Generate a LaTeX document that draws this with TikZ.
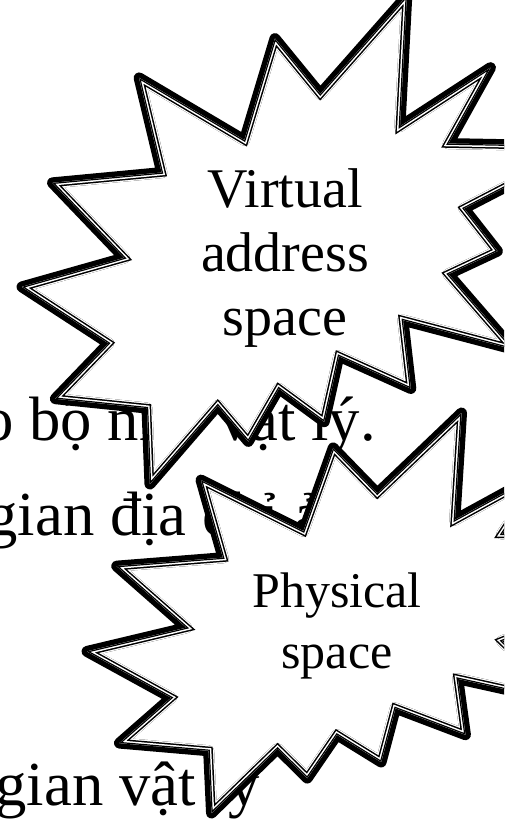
\documentclass[tikz,border=0pt]{standalone}
\usepackage{fontspec}
\setmainfont{Liberation Serif}
\newcommand{\sealpath}{(114.64,43.40) -- (97.22,18.87) -- (85.48,63.83) -- (45.03,36.26) -- (53.73,78.16) -- (11.74,82.70) -- (39.34,115.92) -- (0,128.75) -- (33.29,153.72) -- (12.83,178.24) -- (48.04,182.39) -- (49.18,216) -- (75.25,181.25) -- (86.98,197.12) -- (98.71,173.71) -- (116.14,188.44) -- (121.78,159.37) -- (149.43,173.71) -- (146.40,143.48) -- (188.78,156.32) -- (163.82,123.11) -- (182.70,112.92) -- (169.86,94.04) -- (216,66.46) -- (163.82,65.33) -- (180.05,31.72) -- (145.24,57.78) -- (147.89,0) -- cycle}
\tikzset{
sealthick/.style={draw=black, line width=8.25pt, line join=round},
sealwipe/.style={draw=white, line width=8.25pt, line join=round},
sealinner/.style={draw=black, line width=6.3pt, line join=miter},
sealgap/.style={draw=white, line width=4.05pt, line join=miter},
sealthin/.style={draw=black, line width=1.8pt, line join=miter}}
\newcommand{\bgfont}{\fontsize{47pt}{56pt}\selectfont}
\tikzset{every picture/.style={line width=0.75pt}}

\begin{document}
\begin{tikzpicture}[x=0.75pt,y=0.75pt,yscale=-1,xscale=1]
\useasboundingbox (0,0) rectangle (504,825);
\clip (0,0) rectangle (504,825);

% Text Node
\node [anchor=base west][inner sep=0pt][font=\bgfont] (ln1) at (-18,440) {o bộ nhớ vật lý.};
% Text Node
\node [anchor=base west][inner sep=0pt][font=\bgfont] (ln2) at (-14,535) {gian địa chỉ ảo};
% Text Node
\node [anchor=base west][inner sep=0pt][font=\bgfont] (ln3) at (-5,805) {gian vật lý};

%Shape: Explosion 2 [id:virtual]
\begin{scope}[shift={(22,-4)}, xscale=562/216, yscale=488/216]
\fill [white] \sealpath;
\path [sealthick] \sealpath;
\begin{scope}
\clip \sealpath;
\path [sealwipe] \sealpath;
\path [sealinner] \sealpath;
\path [sealgap] \sealpath;
\path [sealthin] \sealpath;
\end{scope}
\end{scope}
% Text Node
\node [align=center][inner sep=0pt][font=\fontsize{42pt}{48pt}\selectfont] (virt) at (285,258) {Virtual\\address\\space};

%Shape: Explosion 2 [id:physical]
\begin{scope}[shift={(87,413)}, xscale=547/216, yscale=400/216]
\fill [white] \sealpath;
\path [sealthick] \sealpath;
\begin{scope}
\clip \sealpath;
\path [sealwipe] \sealpath;
\path [sealinner] \sealpath;
\path [sealgap] \sealpath;
\path [sealthin] \sealpath;
\end{scope}
\end{scope}
% Text Node
\node [align=center][inner sep=0pt][font=\fontsize{37.5pt}{45.75pt}\selectfont] (phys) at (337,626) {Physical\\space};
\end{tikzpicture}
\end{document}
